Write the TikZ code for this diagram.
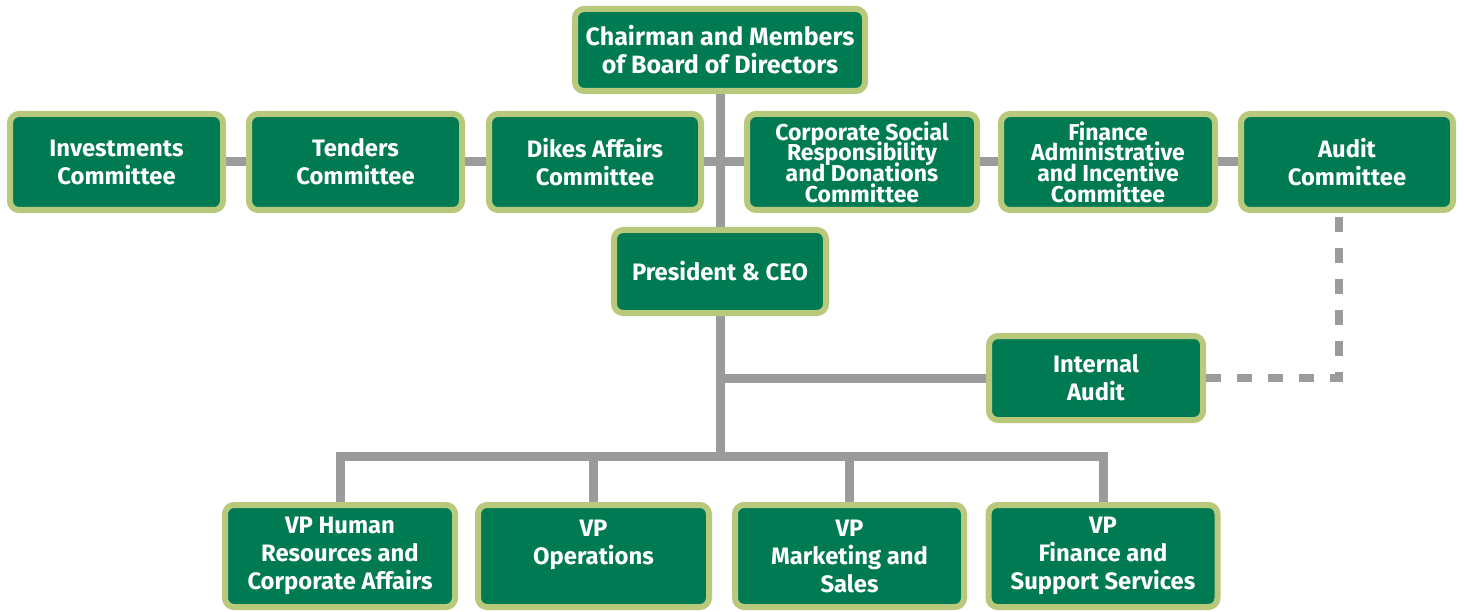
\documentclass[tikz,border=0pt]{standalone}
\usepackage{fontspec}
\setmainfont{Fira Sans}
\usetikzlibrary{backgrounds}
\definecolor{boxgreen}{HTML}{007A53}
\definecolor{rimgreen}{HTML}{B8C97C}
\definecolor{linegray}{HTML}{9B9B9D}
\newcommand\mytightlines{\lineskiplimit=-50pt\relax\lineskip=0pt\relax}
\begin{document}
\begin{tikzpicture}[x=1pt,y=-1pt,
  box/.style={fill=boxgreen, draw=rimgreen, line width=6pt, rounded corners=9pt, text=white,
    font=\bfseries\fontsize{23.8}{28}\selectfont, align=center, inner sep=0pt},
  big/.style={font=\bfseries\fontsize{25}{28}\selectfont},
  tight/.style={font=\bfseries\fontsize{23}{20.7}\selectfont\mytightlines},
  conn/.style={draw=linegray, line width=9pt},
  dashconn/.style={draw=linegray, line width=8pt, dash pattern=on 15pt off 16pt}]
\useasboundingbox (0,0) rectangle (1464,612);

\node[box, big, minimum width=290pt, minimum height=82pt] (chair) at (720,50) {Chairman and Members\\of Board of Directors};

\node[box, minimum width=213pt, minimum height=96pt] (inv) at (116.5,162) {Investments\\Committee};
\node[box, minimum width=213pt, minimum height=96pt] (tend) at (355.5,162) {Tenders\\Committee};
\node[box, minimum width=212pt, minimum height=96pt] (dikes) at (595,162) {Dikes Affairs\\Committee};
\node[box, tight, minimum width=230pt, minimum height=96pt] (csr) at (862,162) {Corporate Social\\Responsibility\\and Donations\\Committee};
\node[box, tight, minimum width=214pt, minimum height=96pt] (fin) at (1108,162) {Finance\\Administrative\\and Incentive\\Committee};
\node[box, minimum width=212pt, minimum height=96pt] (audit) at (1347,162) {Audit\\Committee};

\node[box, minimum width=212pt, minimum height=83pt] (pres) at (720,271.5) {President \& CEO};
\node[box, minimum width=214pt, minimum height=84pt] (ia) at (1096,378) {Internal\\Audit};

\node[box, minimum width=230pt, minimum height=102pt] (vphr) at (340,556) {VP Human\\Resources and\\Corporate Affairs};
\node[box, minimum width=231pt, minimum height=102pt] (vpops) at (593.5,556) {VP\\Operations\\\mbox{}};
\node[box, minimum width=229pt, minimum height=102pt] (vpmkt) at (849.5,556) {VP\\Marketing and\\Sales};
\node[box, minimum width=229pt, minimum height=102pt] (vpfin) at (1103,556) {VP\\Finance and\\Support Services};

\coordinate (busmid) at (720,456);
\coordinate (auditdrop) at (1339,213);

\begin{scope}[on background layer]
\draw[conn] (chair) -- (pres);
\draw[conn] (inv) -- (tend);
\draw[conn] (tend) -- (dikes);
\draw[conn] (dikes) -- (csr);
\draw[conn] (csr) -- (fin);
\draw[conn] (fin) -- (audit);
\draw[conn] (pres) -- (busmid);
\draw[conn] (ia) -- (ia -| pres);
\draw[conn] (vphr) |- (busmid) -| (vpfin);
\draw[conn] (vpops) -- (vpops |- busmid);
\draw[conn] (vpmkt) -- (vpmkt |- busmid);
\end{scope}
\draw[dashconn] (ia.east) -| (auditdrop);
\end{tikzpicture}
\end{document}
